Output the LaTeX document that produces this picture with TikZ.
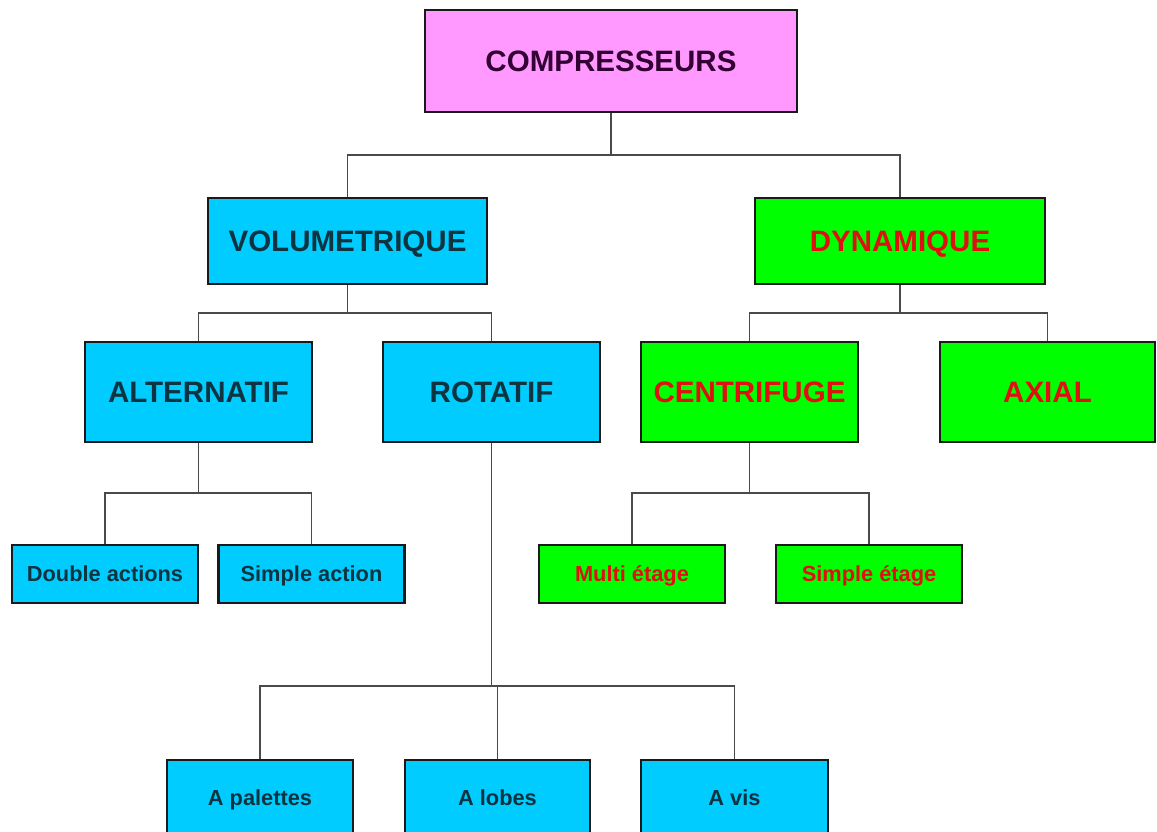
\documentclass[tikz,border=0pt]{standalone}
\usepackage{fontspec}
\setmainfont{Liberation Sans}
\definecolor{pinkfill}{HTML}{FF99FF}
\definecolor{cyanfill}{HTML}{00CCFF}
\definecolor{greenfill}{HTML}{00FF00}
\definecolor{purpletext}{HTML}{330033}
\definecolor{tealtext}{HTML}{0D3440}
\definecolor{redtext}{HTML}{E01010}
\definecolor{linkgray}{HTML}{4A4A4A}
\definecolor{edgeblack}{HTML}{1A1A1A}
\tikzset{
  box/.style={draw=edgeblack, line width=1.9pt, rectangle, inner sep=0pt,
    text height=15pt, text depth=0pt,
    font=\bfseries\fontsize{21}{25}\selectfont},
  smallbox/.style={box, text height=11.1pt, font=\bfseries\fontsize{15.5}{18}\selectfont},
  rootbox/.style={fill=pinkfill, text=purpletext},
  volbox/.style={fill=cyanfill, text=tealtext},
  dynbox/.style={fill=greenfill, text=redtext},
  big/.style={minimum height=2.5cm},
  mid/.style={minimum height=2.15cm},
  leaf/.style={minimum width=4.65cm, minimum height=1.45cm},
  link/.style={draw=linkgray, line width=1.4pt}
}
\begin{document}
\begin{tikzpicture}[x=0.025cm, y=-0.025cm]
  \useasboundingbox (0,0) rectangle (1157,832);
  \clip (0,0) rectangle (1157,832);

  % root
  \node[box, rootbox, minimum width=9.3cm, minimum height=2.55cm] (comp) at (611,61) {COMPRESSEURS};

  % families
  \node[box, volbox, mid, minimum width=6.975cm] (vol) at (347.5,241) {VOLUMETRIQUE};
  \node[box, dynbox, mid, minimum width=7.25cm] (dyn) at (900,241) {DYNAMIQUE};

  % types
  \node[box, volbox, big, minimum width=5.675cm] (alt) at (198.5,392) {ALTERNATIF};
  \node[box, volbox, big, minimum width=5.425cm] (rot) at (491.5,392) {ROTATIF};
  \node[box, dynbox, big, minimum width=5.425cm] (cen) at (749.5,392) {CENTRIFUGE};
  \node[box, dynbox, big, minimum width=5.375cm] (axi) at (1047.5,392) {AXIAL};

  % sub-types
  \node[smallbox, volbox, leaf] (dbl) at (105,574) {Double actions};
  \node[smallbox, volbox, leaf] (sac) at (311.5,574) {Simple action};
  \node[smallbox, dynbox, leaf] (mul) at (632,574) {Multi étage};
  \node[smallbox, dynbox, leaf] (set) at (869,574) {Simple étage};

  % rotary variants
  \node[smallbox, volbox, minimum width=4.65cm, minimum height=1.9cm] (pal) at (260,798) {A palettes};
  \node[smallbox, volbox, minimum width=4.625cm, minimum height=1.9cm] (lob) at (497.5,798) {A lobes};
  \node[smallbox, volbox, minimum width=4.675cm, minimum height=1.9cm] (vis) at (734.5,798) {A vis};

  % branch points
  \coordinate (b1) at (611,155);
  \coordinate (b2) at (347.5,313);
  \coordinate (b3) at (900,313);
  \coordinate (b4) at (198.5,493);
  \coordinate (b5) at (491.5,686);
  \coordinate (b6) at (749.5,493);

  % connectors
  \path[link] (comp.south) -- (b1);
  \path[link] (vol.north) |- (b1);
  \path[link] (dyn.north) |- (b1);

  \path[link] (vol.south) -- (b2);
  \path[link] (alt.north) |- (b2);
  \path[link] (rot.north) |- (b2);

  \path[link] (dyn.south) -- (b3);
  \path[link] (cen.north) |- (b3);
  \path[link] (axi.north) |- (b3);

  \path[link] (alt.south) -- (b4);
  \path[link] (dbl.north) |- (b4);
  \path[link] (sac.north) |- (b4);

  \path[link] (rot.south) -- (b5);
  \path[link] (pal.north) |- (b5);
  \path[link] (lob.north) |- (b5);
  \path[link] (vis.north) |- (b5);

  \path[link] (cen.south) -- (b6);
  \path[link] (mul.north) |- (b6);
  \path[link] (set.north) |- (b6);
\end{tikzpicture}
\end{document}
